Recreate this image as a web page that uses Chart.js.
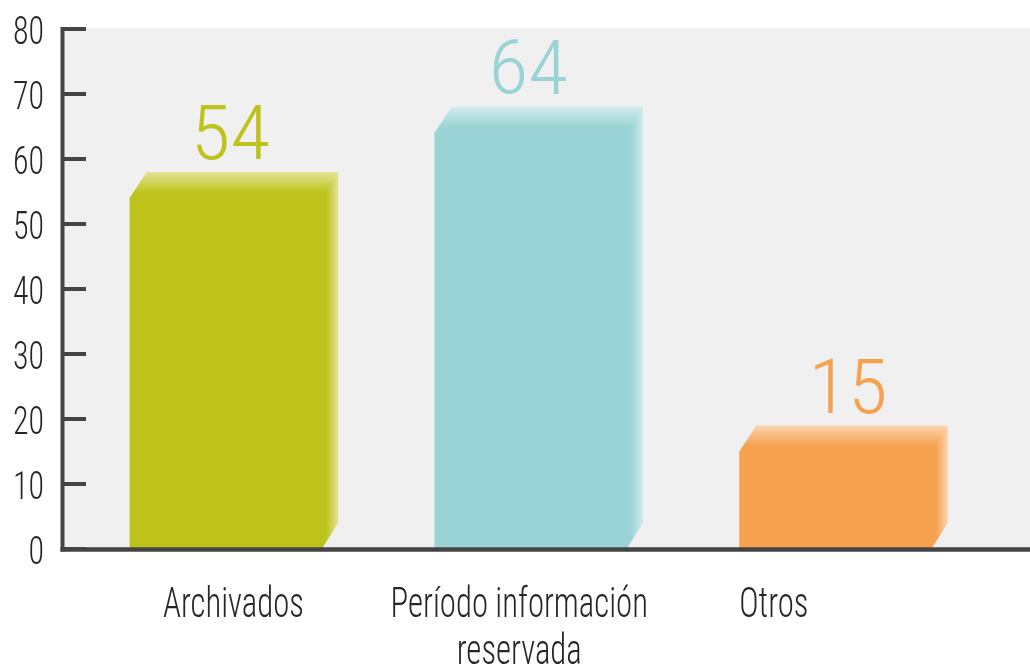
<!DOCTYPE html>
<html>
<head>
<meta charset="utf-8">
<script src="https://cdn.jsdelivr.net/npm/chart.js@4/dist/chart.umd.min.js"></script>
<style>
  html, body { margin: 0; padding: 0; background: #ffffff; }
  #wrap { width: 1030px; height: 668px; position: relative; }
</style>
</head>
<body>
<div id="wrap"><canvas id="c" width="1030" height="668"></canvas></div>
<script>
// ---- data ----
const categories = ['Archivados', ['Período información', 'reservada'], 'Otros'];
const values = [54, 64, 15];
const yMin = 0;
const yMax = 80;
const yStep = 10;

// ---- styles ----
const barColors = ['#BEC31B', '#9AD3D5', '#F5A14F'];
const FONT = '"Roboto Condensed", "Roboto", sans-serif';
const labelShift = [7, -12, 0];        // x-label horizontal nudges (px)
const labelAlign = ['center', 'center', 'barLeft'];
const valueShift = [4, -3, 12];        // value-label horizontal nudges (px)
const DEPTH_X = 15, DEPTH_Y = 26;

function lighten(hex, t) {
  const n = parseInt(hex.slice(1), 16);
  const r = (n >> 16) & 255, g = (n >> 8) & 255, b = n & 255;
  const m = v => Math.round(v + (255 - v) * t);
  return `rgb(${m(r)},${m(g)},${m(b)})`;
}

function drawText(ctx, txt, x, y, align, sx, font, color) {
  ctx.save();
  ctx.font = font;
  ctx.fillStyle = color;
  ctx.textAlign = align;
  ctx.textBaseline = 'alphabetic';
  ctx.translate(x, y);
  ctx.scale(sx, 1);
  ctx.fillText(txt, 0, 0);
  ctx.restore();
}

const decor = {
  id: 'decor',
  beforeDraw(chart) {
    const { ctx, chartArea } = chart;
    ctx.save();
    ctx.fillStyle = '#F0F0F0';
    ctx.fillRect(64, chartArea.top - 1, 1030 - 64, chartArea.bottom - chartArea.top + 1);
    ctx.restore();
  },
  afterDatasetsDraw(chart) {
    const { ctx, chartArea } = chart;
    const meta = chart.getDatasetMeta(0);
    const yScale = chart.scales.y;
    ctx.save();
    meta.data.forEach((bar, i) => {
      const p = bar.getProps(['x', 'y', 'base', 'width'], true);
      const left = p.x - p.width / 2, right = p.x + p.width / 2;
      const col = barColors[i];
      const light = lighten(col, 0.55);
      // side face (overlaps front by 1px to avoid a seam)
      const gs = ctx.createLinearGradient(right - 4, 0, right + DEPTH_X, 0);
      gs.addColorStop(0, col);
      gs.addColorStop(0.35, col);
      gs.addColorStop(1, light);
      ctx.fillStyle = gs;
      ctx.beginPath();
      ctx.moveTo(right - 1.5, p.y);
      ctx.lineTo(right + DEPTH_X, p.y - DEPTH_Y);
      ctx.lineTo(right + DEPTH_X, p.base - DEPTH_Y);
      ctx.lineTo(right - 1.5, p.base);
      ctx.closePath();
      ctx.fill();
      // top face (overlaps front by 1px)
      const gt = ctx.createLinearGradient(0, p.y - DEPTH_Y, 0, p.y);
      gt.addColorStop(0, light);
      gt.addColorStop(0.8, col);
      gt.addColorStop(1, col);
      ctx.fillStyle = gt;
      ctx.beginPath();
      ctx.moveTo(left, p.y + 1.5);
      ctx.lineTo(left, p.y);
      ctx.lineTo(left + DEPTH_X + 2, p.y - DEPTH_Y);
      ctx.lineTo(right + DEPTH_X, p.y - DEPTH_Y);
      ctx.lineTo(right - 1.5, p.y + 1.5);
      ctx.closePath();
      ctx.fill();
      // value label
      drawText(ctx, String(values[i]), p.x + valueShift[i], p.y - 39, 'center', 1.07,
               '300 76px ' + FONT, col);
      // category label
      const lines = Array.isArray(categories[i]) ? categories[i] : [categories[i]];
      const isLeft = labelAlign[i] === 'barLeft';
      const lx = isLeft ? left + labelShift[i] : p.x + labelShift[i];
      lines.forEach((ln, k) => {
        drawText(ctx, ln, lx, chartArea.bottom + 68 + k * 47, isLeft ? 'left' : 'center', 0.78,
                 '300 42px ' + FONT, '#262626');
      });
    });
    // y tick labels
    yScale.ticks.forEach(t => {
      const py = yScale.getPixelForValue(t.value);
      drawText(ctx, String(t.value), 44, py + 15, 'right', 0.84, '300 38px ' + FONT, '#262626');
    });
    // axes
    ctx.strokeStyle = '#444444';
    ctx.lineCap = 'butt';
    ctx.lineWidth = 4;
    ctx.beginPath();
    ctx.moveTo(62.5, yScale.getPixelForValue(yMax) - 2);
    ctx.lineTo(62.5, yScale.getPixelForValue(yMin) + 2.5);
    ctx.stroke();
    yScale.ticks.forEach(t => {
      const py = yScale.getPixelForValue(t.value);
      ctx.beginPath();
      ctx.moveTo(61, py);
      ctx.lineTo(86, py);
      ctx.stroke();
    });
    ctx.lineWidth = 4.5;
    ctx.beginPath();
    ctx.moveTo(60.5, yScale.getPixelForValue(yMin) + 0.5);
    ctx.lineTo(1030, yScale.getPixelForValue(yMin) + 0.5);
    ctx.stroke();
    ctx.restore();
  }
};

new Chart(document.getElementById('c'), {
  type: 'bar',
  data: {
    labels: categories,
    datasets: [{
      data: values,
      backgroundColor: barColors,
      borderWidth: 0,
      barPercentage: 0.635,
      categoryPercentage: 1.0
    }]
  },
  options: {
    responsive: false,
    animation: false,
    events: [],
    layout: { padding: { top: 29, right: 41.5, bottom: 0, left: 0 } },
    plugins: { legend: { display: false }, tooltip: { enabled: false } },
    scales: {
      x: {
        grid: { display: false, drawTicks: false },
        border: { display: false },
        ticks: { display: false },
        afterFit(s) { s.height = 119; }
      },
      y: {
        min: yMin, max: yMax,
        grid: { display: false, drawTicks: false },
        border: { display: false },
        ticks: { display: false, stepSize: yStep },
        afterFit(s) { s.width = 74; }
      }
    }
  },
  plugins: [decor]
});
</script>
</body>
</html>
